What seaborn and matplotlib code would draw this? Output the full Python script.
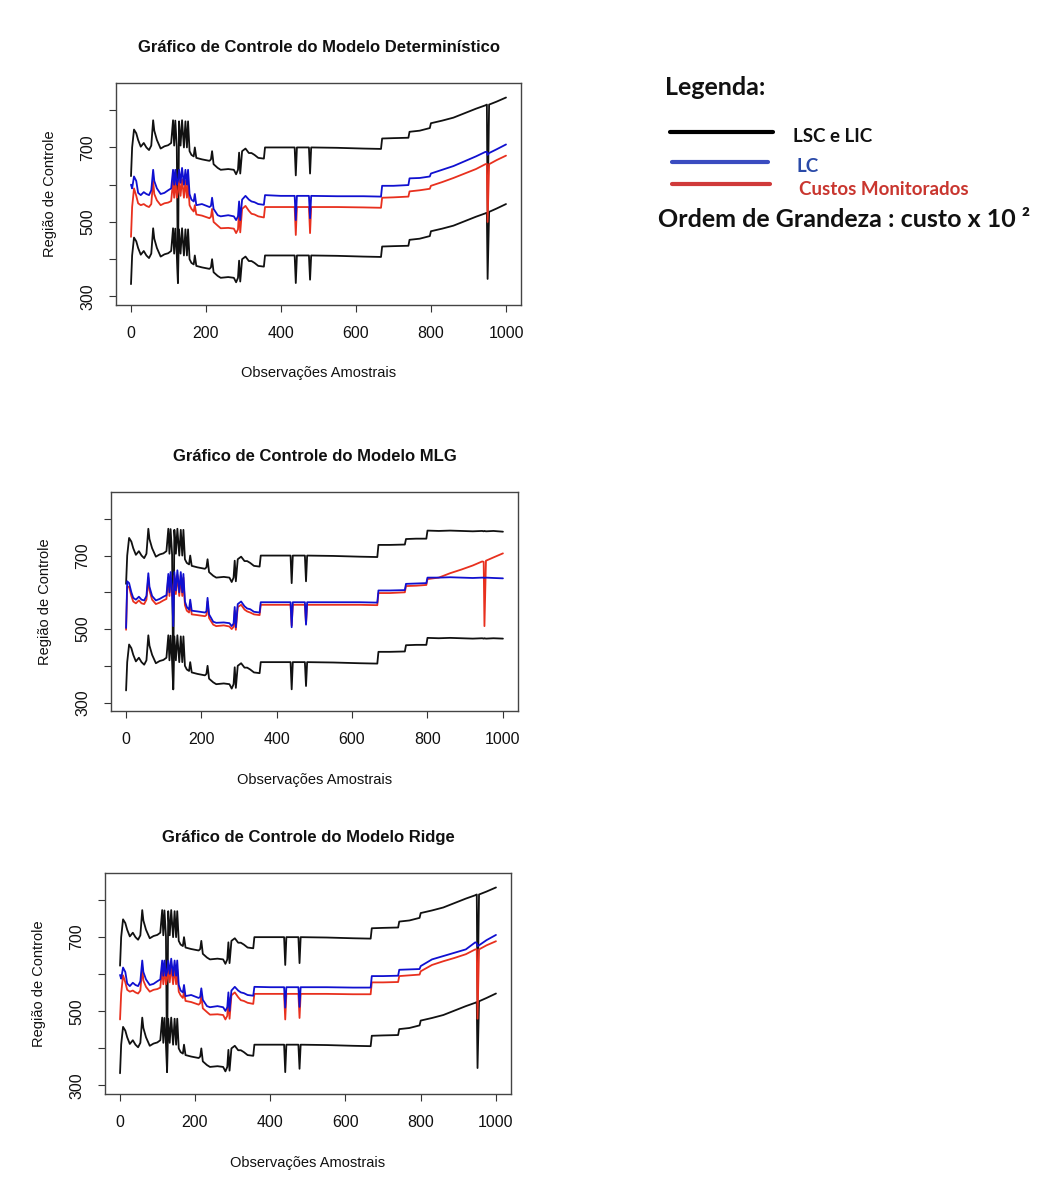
import matplotlib
matplotlib.use("Agg")
import matplotlib.pyplot as plt
from matplotlib.lines import Line2D
import seaborn as sns

# ---------------- data ----------------
X_KNOTS = [1, 4, 9, 15, 20, 27, 35, 42, 49, 55,
           60, 63, 70, 80, 90, 100, 108, 113, 116, 119,
           123, 126, 129, 133, 137, 142, 146, 150, 153, 157,
           162, 168, 171, 175, 190, 210, 214, 217, 221, 232,
           240, 260, 275, 281, 286, 289, 292, 297, 306, 315,
           322, 330, 340, 355, 358, 400, 437, 440, 443, 475,
           478, 481, 550, 620, 667, 670, 700, 740, 743, 770,
           797, 800, 830, 860, 890, 920, 945, 949, 951, 955, 975,
           1000]

LSC_A = [623, 700, 748, 738, 720, 702, 712, 700, 693, 705,
         773, 745, 720, 697, 703, 706, 712, 773, 705, 772,
         702, 336, 770, 705, 773, 700, 770, 700, 770, 690,
         680, 676, 700, 672, 668, 664, 668, 690, 655, 645,
         640, 642, 640, 628, 640, 686, 630, 690, 697, 685,
         685, 680, 672, 670, 700, 700, 700, 625, 700, 700,
         630, 700, 699, 697, 696, 724, 725, 726, 742, 745,
         752, 765, 772, 780, 792, 804, 813, 815, 530, 815, 823,
         834]

LIC_A = [333, 410, 458, 448, 430, 412, 422, 410, 403, 415,
         483, 455, 430, 407, 413, 416, 422, 483, 415, 482,
         412, 336, 480, 415, 483, 410, 480, 410, 480, 400,
         390, 386, 410, 382, 378, 374, 378, 400, 365, 355,
         350, 352, 350, 338, 350, 396, 340, 400, 407, 395,
         395, 390, 382, 380, 410, 410, 410, 336, 410, 410,
         345, 410, 409, 407, 406, 434, 435, 436, 452, 455,
         462, 475, 482, 490, 502, 514, 523, 525, 347, 527, 536,
         548]

LSC_MLG = [623, 700, 748, 738, 720, 702, 712, 700, 693, 705,
           773, 745, 720, 697, 703, 706, 712, 773, 705, 772,
           702, 336, 770, 705, 773, 700, 770, 700, 770, 690,
           680, 676, 700, 672, 668, 664, 668, 690, 655, 645,
           640, 642, 640, 628, 640, 686, 630, 690, 697, 685,
           685, 680, 672, 670, 700, 700, 700, 625, 700, 700,
           630, 700, 699, 697, 696, 729, 729, 730, 745, 746,
           746, 768, 767, 768, 767, 766, 767, 766, 767, 766, 767,
           765]

LIC_MLG = [333, 410, 458, 448, 430, 412, 422, 410, 403, 415,
           483, 455, 430, 407, 413, 416, 422, 483, 415, 482,
           412, 336, 480, 415, 483, 410, 480, 410, 480, 400,
           390, 386, 410, 382, 378, 374, 378, 400, 365, 355,
           350, 352, 350, 338, 350, 396, 340, 400, 407, 395,
           395, 390, 382, 380, 410, 410, 410, 336, 410, 410,
           345, 410, 409, 407, 406, 438, 438, 439, 456, 457,
           457, 476, 475, 476, 475, 474, 475, 474, 475, 474, 475,
           474]

LC_DET = [600, 590, 622, 610, 578, 572, 580, 575, 572, 585,
          640, 610, 590, 575, 578, 585, 590, 640, 600, 640,
          600, 610, 640, 605, 645, 600, 640, 600, 640, 575,
          560, 555, 575, 545, 548, 540, 543, 565, 535, 518,
          515, 518, 515, 505, 515, 555, 505, 560, 570, 560,
          555, 553, 548, 546, 572, 570, 570, 505, 570, 570,
          510, 570, 569, 569, 568, 597, 597, 599, 617, 618,
          622, 630, 640, 650, 663, 676, 688, 688, 680, 685, 695,
          708]

CUSTO_DET = [460, 540, 590, 570, 550, 545, 548, 543, 540, 548,
             610, 575, 558, 545, 550, 552, 556, 610, 565, 612,
             565, 580, 612, 570, 615, 565, 610, 565, 605, 545,
             535, 528, 545, 520, 517, 510, 514, 535, 500, 490,
             483, 484, 482, 470, 480, 530, 472, 535, 543, 530,
             522, 520, 515, 512, 540, 540, 540, 465, 540, 540,
             470, 540, 540, 539, 538, 565, 566, 568, 582, 585,
             589, 597, 607, 618, 630, 642, 655, 656, 500, 655, 666,
             678]

LC_MLG = [503, 630, 625, 600, 585, 580, 588, 580, 578, 590,
          652, 615, 590, 578, 582, 588, 592, 650, 600, 655,
          600, 508, 655, 605, 660, 600, 655, 600, 650, 575,
          560, 553, 580, 550, 548, 545, 548, 585, 540, 520,
          517, 518, 516, 508, 515, 560, 505, 568, 575, 562,
          556, 554, 547, 545, 573, 573, 573, 505, 573, 573,
          512, 573, 573, 573, 572, 605, 605, 606, 623, 624,
          625, 640, 640, 641, 640, 639, 640, 640, 639, 640, 639,
          638]

CUSTO_MLG = [498, 615, 615, 590, 575, 570, 578, 570, 568, 580,
             640, 605, 580, 568, 572, 578, 582, 640, 590, 645,
             590, 600, 645, 595, 648, 590, 645, 590, 640, 565,
             550, 545, 570, 540, 538, 535, 538, 575, 530, 512,
             508, 510, 507, 500, 506, 550, 498, 560, 566, 553,
             548, 545, 540, 538, 566, 566, 566, 510, 566, 566,
             515, 566, 566, 566, 565, 598, 598, 600, 617, 618,
             620, 636, 640, 652, 662, 673, 684, 683, 508, 686, 695,
             706]

LC_RIDGE = [598, 588, 618, 606, 575, 568, 577, 571, 568, 581,
            637, 606, 586, 571, 574, 581, 586, 637, 596, 637,
            596, 606, 637, 601, 642, 596, 637, 596, 637, 571,
            556, 551, 571, 541, 544, 536, 539, 562, 531, 514,
            511, 514, 511, 501, 511, 551, 501, 556, 566, 556,
            551, 549, 544, 542, 566, 565, 565, 510, 565, 565,
            512, 565, 565, 564, 564, 595, 595, 596, 612, 613,
            614, 622, 640, 649, 658, 667, 686, 684, 676, 678, 692,
            706]

CUSTO_RIDGE = [478, 548, 597, 578, 558, 553, 556, 551, 548, 556,
               618, 583, 566, 553, 558, 560, 564, 618, 573, 620,
               573, 588, 620, 578, 623, 573, 618, 573, 613, 553,
               543, 536, 553, 528, 525, 518, 522, 543, 508, 498,
               491, 492, 490, 478, 488, 538, 480, 543, 551, 538,
               530, 528, 523, 520, 547, 547, 547, 478, 547, 547,
               482, 547, 547, 546, 546, 578, 578, 579, 595, 597,
               599, 608, 625, 635, 644, 654, 667, 667, 480, 667, 678,
               689]

TITLES = ["Gráfico de Controle do Modelo Determinístico",
          "Gráfico de Controle do Modelo MLG",
          "Gráfico de Controle do Modelo Ridge"]
Y_TICKS = [300, 400, 500, 600, 700, 800]
Y_TICK_LABELS = ["300", "", "500", "", "700", ""]
X_TICKS = [0, 200, 400, 600, 800, 1000]
LEGEND_LABELS = ["LSC e LIC", "LC", "Custos Monitorados"]

# ---------------- style ----------------
sns.set_theme(style="white")
plt.rcParams["font.family"] = ["Liberation Sans", "DejaVu Sans"]

W, H = 1054, 1177
fig = plt.figure(figsize=(W / 100, H / 100), dpi=100)
fig.patch.set_facecolor("white")


def rect(left, top, right, bottom):
    return [left / W, 1 - bottom / H, (right - left) / W, (bottom - top) / H]


panels = [
    (TITLES[0], rect(116, 83, 521, 305), LSC_A, LIC_A, LC_DET, CUSTO_DET, -0.306),
    (TITLES[1], rect(111, 492, 518, 711), LSC_MLG, LIC_MLG, LC_MLG, CUSTO_MLG, -0.315),
    (TITLES[2], rect(105, 873, 511, 1094), LSC_A, LIC_A, LC_RIDGE, CUSTO_RIDGE, -0.312),
]

BLACK = "#111111"
BLUE = "#1010d0"
RED = "#e8301e"

for title, r, lsc, lic, lc, custo, xl_y in panels:
    ax = fig.add_axes(r)
    common = dict(x=X_KNOTS, ax=ax, estimator=None, linewidth=1.3, legend=False)
    sns.lineplot(y=lsc, color=BLACK, **common)
    sns.lineplot(y=lic, color=BLACK, **common)
    sns.lineplot(y=custo, color=RED, **common)
    sns.lineplot(y=lc, color=BLUE, **common)

    ax.set_xlim(-38.96, 1039.96)
    ax.set_ylim(277, 873)
    ax.set_xticks(X_TICKS)
    ax.set_xticklabels([str(t) for t in X_TICKS])
    ax.set_yticks(Y_TICKS)
    ax.set_yticklabels(Y_TICK_LABELS)
    ax.tick_params(axis="both", direction="out", length=5, width=0.8,
                   color="#333333", labelsize=11.5, labelcolor="#111111",
                   bottom=True, left=True, pad=10)
    for lab in ax.get_yticklabels():
        lab.set_rotation(90)
        lab.set_va("center")
    for s in ax.spines.values():
        s.set_visible(True)
        s.set_color("#444444")
        s.set_linewidth(1.0)

    ax.set_title(title, fontsize=12, fontweight="bold", pad=22, color="#111111")
    ax.set_xlabel("Observações Amostrais", fontsize=10.5, color="#111111")
    ax.set_ylabel("Região de Controle", fontsize=10.5, color="#111111")
    ax.xaxis.set_label_coords(0.5, xl_y)
    ax.xaxis.label.set_va("center")
    ax.yaxis.set_label_coords(-0.162, 0.5)
    ax.yaxis.label.set_va("center")


def fx(px):
    return px / W


def fy(py):
    return 1 - py / H


LEG_FONT = ["Lato", "DejaVu Sans"]
fig.text(fx(665), fy(95), "Legenda:", fontsize=18, fontweight="bold",
         family=LEG_FONT, color="#111111", va="baseline")
fig.add_artist(Line2D([fx(670), fx(773)], [fy(132), fy(132)], color="#000000",
                      lw=3, solid_capstyle="round"))
fig.add_artist(Line2D([fx(672), fx(768)], [fy(162), fy(162)], color="#3a4cc0",
                      lw=3, solid_capstyle="round"))
fig.add_artist(Line2D([fx(672), fx(770)], [fy(184), fy(184)], color="#d03a3a",
                      lw=3, solid_capstyle="round"))
fig.text(fx(793), fy(142), LEGEND_LABELS[0], fontsize=13.5, fontweight="bold",
         family=LEG_FONT, color="#111111", va="baseline")
fig.text(fx(797), fy(172), LEGEND_LABELS[1], fontsize=13.5, fontweight="bold",
         family=LEG_FONT, color="#2a4aa8", va="baseline")
fig.text(fx(799), fy(195), LEGEND_LABELS[2], fontsize=13.5, fontweight="bold",
         family=LEG_FONT, color="#c9362f", va="baseline")
fig.text(fx(658), fy(227), "Ordem de Grandeza : custo x 10 ²", fontsize=18,
         fontweight="bold", family=LEG_FONT, color="#111111", va="baseline")

fig.savefig("out.png", dpi=100, facecolor="white")
